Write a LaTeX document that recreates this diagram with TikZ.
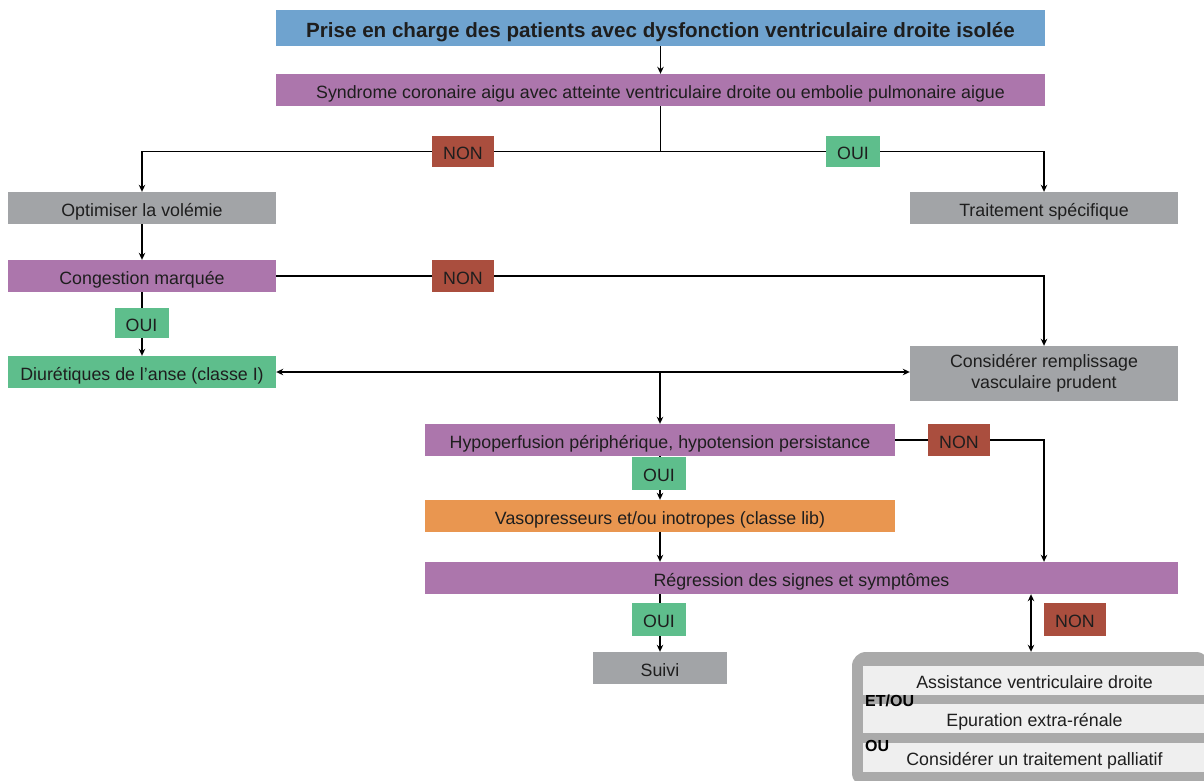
\documentclass[tikz,border=0pt]{standalone}
\usepackage{fontspec}
\setmainfont{Liberation Sans}
\usetikzlibrary{arrows.meta,backgrounds}
\definecolor{cblue}{RGB}{111,163,207}
\definecolor{cpurple}{RGB}{172,118,172}
\definecolor{cgray}{RGB}{162,164,167}
\definecolor{cgreen}{RGB}{94,190,140}
\definecolor{cred}{RGB}{170,78,62}
\definecolor{corange}{RGB}{233,150,80}
\definecolor{cbig}{RGB}{170,170,170}
\definecolor{crow}{RGB}{239,239,239}
\definecolor{ctext}{RGB}{30,30,30}
\tikzset{
  base/.style={inner sep=0pt, text=ctext, font=\fontsize{17.8}{21}\selectfont, minimum height=32pt, text height=20pt, text depth=3.2pt},
  purplebox/.style={base, fill=cpurple},
  graybox/.style={base, fill=cgray},
  greenbox/.style={base, fill=cgreen},
  orangebox/.style={base, fill=corange},
  nonlab/.style={base, fill=cred, minimum width=62pt, minimum height=31pt},
  ouilab/.style={base, fill=cgreen, minimum width=54pt, minimum height=31pt},
  rowbox/.style={base, fill=crow, minimum width=343pt, minimum height=29pt},
  conn/.style={line width=1.8pt, draw=black},
  arr/.style={conn, -{Stealth[length=7pt,width=6.5pt]}},
  darr/.style={conn, {Stealth[length=7pt,width=6.5pt]}-{Stealth[length=7pt,width=6.5pt]}},
  small/.style={inner sep=0pt, anchor=west, text=black, font=\fontsize{16}{18}\selectfont\bfseries}
}
\begin{document}
\begin{tikzpicture}[x=1pt,y=-1pt]
\useasboundingbox (0,0) rectangle (1204,781);
% boxes
\node[base, fill=cblue, minimum width=769pt, minimum height=36pt, text height=24pt, text depth=4.2pt, font=\fontsize{20.6}{24}\selectfont\bfseries] (title) at (660.5,28) {Prise en charge des patients avec dysfonction ventriculaire droite isolée};
\node[purplebox, minimum width=769pt] (synd) at (660.5,90) {Syndrome coronaire aigu avec atteinte ventriculaire droite ou embolie pulmonaire aigue};
\node[nonlab] (non1) at (463,151.5) {NON};
\node[ouilab] (oui1) at (853,151.5) {OUI};
\node[graybox, minimum width=268pt] (opt) at (142,208) {Optimiser la volémie};
\node[graybox, minimum width=268pt] (trait) at (1044,208) {Traitement spécifique};
\node[purplebox, minimum width=268pt] (cong) at (142,276) {Congestion marquée};
\node[nonlab, minimum height=32pt] (non2) at (463,276) {NON};
\node[ouilab, minimum height=30pt] (oui2) at (141.5,323) {OUI};
\node[greenbox, minimum width=268pt] (diur) at (142,372) {Diurétiques de l'anse (classe I)};
\node[inner sep=0pt, text=ctext, font=\fontsize{17.8}{21}\selectfont, align=center, fill=cgray, minimum width=268pt, minimum height=55pt] (cons) at (1044,373.5) {Considérer remplissage\\vasculaire prudent};
\node[purplebox, minimum width=470pt] (hypo) at (660,440) {Hypoperfusion périphérique, hypotension persistance};
\node[nonlab, minimum height=32pt] (non3) at (959,440) {NON};
\node[ouilab, minimum height=33pt] (oui3) at (659,473.5) {OUI};
\node[orangebox, minimum width=470pt] (vaso) at (660,516) {Vasopresseurs et/ou inotropes (classe lib)};
\node[purplebox, minimum width=753pt] (regr) at (801.5,578) {Régression des signes et symptômes};
\node[ouilab, minimum height=33pt] (oui4) at (659,619.5) {OUI};
\node[graybox, minimum width=134pt] (suivi) at (660,668) {Suivi};
\node[nonlab, minimum height=33pt] (non4) at (1075,619.5) {NON};
\node[fill=cbig, rounded corners=14pt, minimum width=358pt, minimum height=135pt, inner sep=0pt] (big) at (1031,719.5) {};
\node[rowbox] (row1) at (1034.5,680.5) {Assistance ventriculaire droite};
\node[rowbox] (row2) at (1034.5,718.5) {Epuration extra-rénale};
\node[rowbox] (row3) at (1034.5,757.5) {Considérer un traitement palliatif};
\node[small] (etou) at (865,701) {ET/OU};
\node[small] (ou) at (865,746) {OU};
% connectors
\begin{scope}[on background layer]
\draw[arr] (title.south) -- (synd.north);
\draw[arr] (synd.south) |- (non1.east) -| (opt.north);
\draw[arr] (synd.south) |- (oui1.west) -| (trait.north);
\draw[arr] (opt.south) -- (cong.north);
\draw[arr] (cong.east) -| (cons.north);
\draw[arr] (cong.south) -- (diur.north);
\draw[darr] (diur.east) -- (diur.east -| cons.west);
\draw[arr] (hypo.north |- diur.east) -- (hypo.north);
\draw[arr] (hypo.east) -| (regr.north -| cons.south);
\draw[arr] (hypo.south) -- (vaso.north);
\draw[arr] (vaso.south) -- (vaso.south |- regr.north);
\draw[arr] (suivi.north |- regr.south) -- (suivi.north);
\draw[darr] (big.north |- regr.south) -- (big.north);
\end{scope}
\end{tikzpicture}
\end{document}
